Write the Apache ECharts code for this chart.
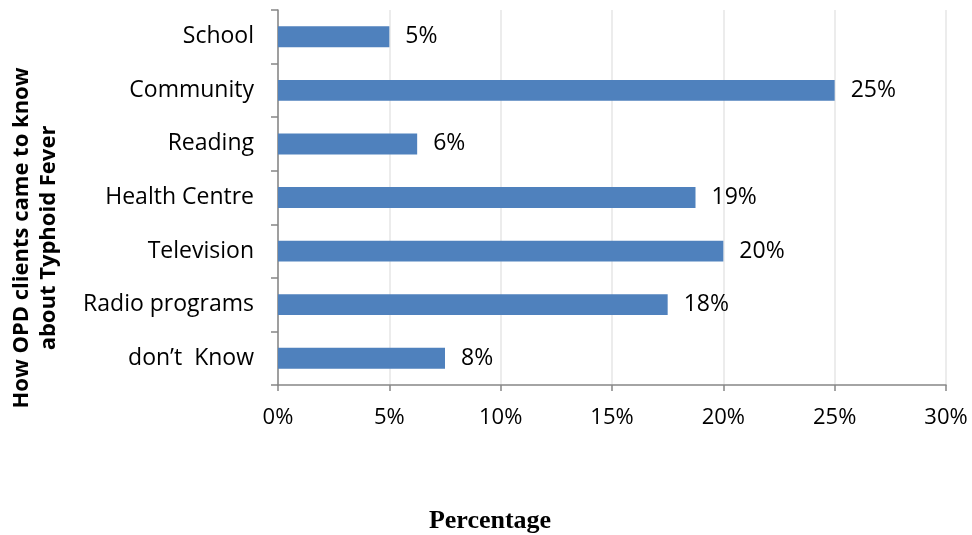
<!DOCTYPE html>
<html>
<head>
<meta charset="utf-8">
<script src="https://cdn.jsdelivr.net/npm/echarts@6/dist/echarts.min.js"></script>
<style>html,body{margin:0;padding:0;background:#fff;}#c{width:972px;height:535px;}</style>
</head>
<body>
<div id="c"></div>
<script>
const categories = ["School", "Community", "Reading", "Health Centre", "Television", "Radio programs", "don\u2019t  Know"];
const values = [5.0, 25.0, 6.25, 18.75, 20.0, 17.5, 7.5];
const valueLabels = ["5%", "25%", "6%", "19%", "20%", "18%", "8%"];
const xTicks = [0, 5, 10, 15, 20, 25, 30];

const chart = echarts.init(document.getElementById('c'));
const font = "'Open Sans', 'Liberation Sans', sans-serif";
chart.setOption({
  animation: false,
  grid: { left: 278, right: 26, top: 10, bottom: 150 },
  xAxis: {
    type: 'value', min: xTicks[0], max: xTicks[xTicks.length - 1], interval: 5,
    axisLine: { show: true, lineStyle: { color: '#868686', width: 1.5 } },
    axisTick: { show: true, length: 6, lineStyle: { color: '#868686', width: 1.5 } },
    splitLine: { show: true, lineStyle: { color: '#e6e6e6', width: 1.5 } },
    axisLabel: { formatter: v => v + '%', color: '#000', fontSize: 22, fontFamily: font, margin: 22 }
  },
  yAxis: {
    type: 'category', data: categories, inverse: true,
    axisLine: { show: true, lineStyle: { color: '#868686', width: 1.5 } },
    axisTick: { show: true, length: 7, lineStyle: { color: '#868686', width: 1.5 } },
    axisLabel: { color: '#000', fontSize: 23, fontFamily: font, margin: 24, padding: [4, 0, 0, 0] }
  },
  series: [{
    type: 'bar', data: values, barCategoryGap: '61%',
    itemStyle: { color: '#4f81bd' },
    label: {
      show: true, position: 'right', distance: 16, color: '#000', fontSize: 23, fontFamily: font,
      padding: [4, 0, 0, 0],
      formatter: p => valueLabels[p.dataIndex]
    }
  }],
  graphic: [
    {
      type: 'text', x: 490, y: 521,
      style: { text: 'Percentage', font: "bold 26px 'Liberation Serif', serif", fill: '#000', align: 'center', verticalAlign: 'middle' }
    },
    {
      type: 'text', x: 35, y: 238, rotation: Math.PI / 2,
      style: {
        text: 'How OPD clients came to know\nabout Typhoid Fever',
        font: "bold 22px 'Open Sans', 'Liberation Sans', sans-serif", fill: '#000',
        align: 'center', verticalAlign: 'middle', lineHeight: 27
      }
    }
  ]
});
</script>
</body>
</html>
